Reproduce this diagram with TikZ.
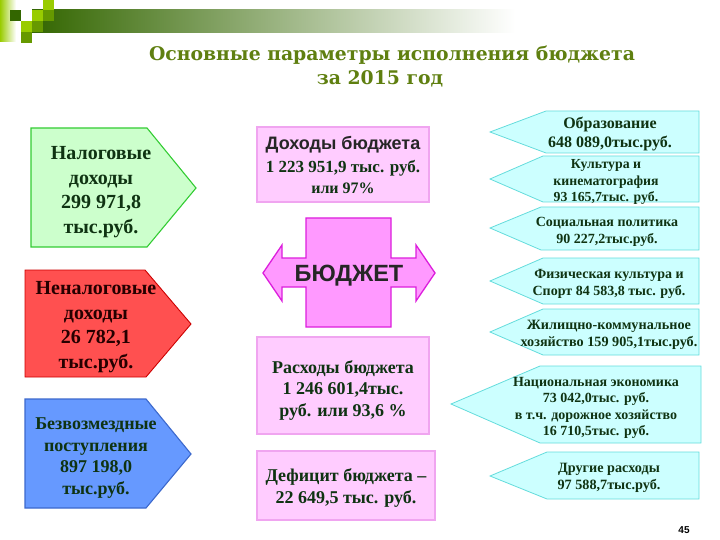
\documentclass[tikz,border=0pt]{standalone}
\usepackage{fontspec}
\setmainfont{Liberation Serif}
\setsansfont{Liberation Sans}
\newfontfamily\ttlfont{DejaVu Serif}
\definecolor{txtdark}{HTML}{0F3312}
\definecolor{ttl}{HTML}{5F7F10}
\definecolor{lime}{HTML}{99CC00}
\definecolor{midg}{HTML}{669900}
\definecolor{darkg}{HTML}{336600}
\tikzset{
	grn/.style={draw={rgb,255:red,51;green,204;blue,51},fill={rgb,255:red,204;green,255;blue,204},line width=1.1pt},
	rd/.style={draw=red!80!black,fill={rgb,255:red,255;green,80;blue,80},line width=.9pt},
	blu/.style={draw={rgb,255:red,60;green,105;blue,205},fill={rgb,255:red,102;green,153;blue,255},line width=1.1pt},
	pk/.style={draw={rgb,255:red,240;green,165;blue,240},fill={rgb,255:red,255;green,204;blue,255},line width=1.5pt},
	bud/.style={draw={rgb,255:red,220;green,30;blue,220},fill={rgb,255:red,255;green,153;blue,255},line width=1.3pt},
	cy/.style={draw={rgb,255:red,100;green,220;blue,220},fill={rgb,255:red,204;green,255;blue,255},line width=.8pt},
	lbl/.style={align=center,font=\bfseries,text=txtdark,inner sep=0pt},
}

\begin{document}
\begin{tikzpicture}[x=1pt,y=-1pt]
	\useasboundingbox (0,0) rectangle (720,540);

	% header
	\shade [left color=darkg,right color=white] (32,10) rectangle (515,33);
	\shade [left color=lime,right color=white] (0,0) rectangle (16,42);
	\fill [darkg] (10,10) rectangle (21,21);
	\fill [lime] (32,10) rectangle (43,21);
	\fill [midg] (43,10) rectangle (54,21);
	\fill [lime] (43,0) rectangle (54,10);
	\fill [lime] (21,21) rectangle (32,32);
	\fill [midg] (32,21) rectangle (43,32);
	\fill [midg] (21,32) rectangle (32,43);

	\node [font=\ttlfont\bfseries\fontsize{18.8}{22}\selectfont,text=ttl,inner sep=0pt] (title1) at (392,55) {Основные параметры исполнения бюджета};
	\node [font=\ttlfont\bfseries\fontsize{18.8}{22}\selectfont,text=ttl,inner sep=0pt] (title2) at (380,79) {за 2015 год};

	% left
	\draw [grn] (31,128) -- (147,128) -- (196,188) -- (147,247) -- (31,247) -- cycle;
	\draw [rd] (25,270) -- (145,270) -- (191,324) -- (146,377) -- (25,377) -- cycle;
	\draw [blu] (25,399) -- (146,399) -- (191,454) -- (146,508) -- (25,508) -- cycle;

	\node [lbl,font=\bfseries\fontsize{20}{24.5}\selectfont] (nalog) at (101,192) {Налоговые\\доходы\\299 971,8\\тыс.руб.};
	\node [lbl,font=\bfseries\fontsize{20}{24.5}\selectfont,text=black!85!red] (nenalog) at (96,327) {Неналоговые\\доходы\\26 782,1\\тыс.руб.};
	\node [lbl,font=\bfseries\fontsize{18}{21.5}\selectfont] (bezvozm) at (96,458) {Безвозмездные\\поступления\\897 198,0\\тыс.руб.};

	% centre
	\draw [pk] (257,127) rectangle (429,202);
	\draw [bud] (306,218) -- (391,218) -- (391,258) -- (416,258) -- (416,245) -- (435,273) -- (416,301) -- (416,287) -- (391,287) -- (391,327) -- (306,327) -- (306,287) -- (282,287) -- (282,301) -- (263,273) -- (282,245) -- (282,258) -- (306,258) -- cycle;
	\draw [pk] (257,337) rectangle (429,434);
	\draw [pk] (257,451) rectangle (435,520);

	\node [font=\sffamily\bfseries\fontsize{18}{20}\selectfont,text=black!85,inner sep=0pt] (dohhead) at (343,145) {Доходы бюджета};
	\node [lbl,font=\bfseries\fontsize{17}{20}\selectfont] (dohval) at (343,168) {1 223 951,9 тыс. руб.};
	\node [lbl,font=\bfseries\fontsize{16}{18}\selectfont] (dohpct) at (343,188) {или 97\%};
	\node [font=\sffamily\bfseries\fontsize{23.5}{26}\selectfont,text=black!85,inner sep=0pt] (byudzhet) at (349,276) {БЮДЖЕТ};
	\node [lbl,font=\bfseries\fontsize{18}{21.5}\selectfont] (rash) at (343,390) {Расходы бюджета\\1 246 601,4тыс.\\руб. или 93,6 \%};
	\node [lbl,font=\bfseries\fontsize{18}{22}\selectfont] (defic) at (346,488) {Дефицит бюджета –\\22 649,5 тыс. руб.};

	% right
	\draw [cy] (490,132) -- (546,111) -- (699,111) -- (699,153) -- (546,153) -- cycle;
	\draw [cy] (490,179) -- (543,156) -- (699,156) -- (699,202) -- (543,202) -- cycle;
	\draw [cy] (490,228) -- (541,207) -- (699,207) -- (699,250) -- (541,250) -- cycle;
	\draw [cy] (490,281) -- (543,258) -- (699,258) -- (699,304) -- (543,304) -- cycle;
	\draw [cy] (490,332) -- (543,309) -- (699,309) -- (699,355) -- (543,355) -- cycle;
	\draw [cy] (451,404) -- (540,366) -- (701,366) -- (701,443) -- (540,443) -- cycle;
	\draw [cy] (490,476) -- (547,452) -- (699,452) -- (699,499) -- (547,499) -- cycle;

	\node [lbl,font=\bfseries\fontsize{16}{19}\selectfont] (obraz) at (610,134) {Образование\\648 089,0тыс.руб.};
	\node [lbl,font=\bfseries\fontsize{13.8}{16.5}\selectfont] (kult) at (606,182) {Культура и\\кинематография\\93 165,7тыс. руб.};
	\node [lbl,font=\bfseries\fontsize{14}{17}\selectfont] (socp) at (607,232) {Социальная политика\\90 227,2тыс.руб.};
	\node [lbl,font=\bfseries\fontsize{14}{17}\selectfont] (fiz) at (609,284) {Физическая культура и\\Спорт 84 583,8 тыс. руб.};
	\node [lbl,font=\bfseries\fontsize{14.2}{17}\selectfont] (zhil) at (609,335) {Жилищно-коммунальное\\хозяйство 159 905,1тыс.руб.};
	\node [lbl,font=\bfseries\fontsize{14}{16.5}\selectfont] (nacek) at (596,408) {Национальная экономика\\73 042,0тыс. руб.\\в т.ч. дорожное хозяйство\\16 710,5тыс. руб.};
	\node [lbl,font=\bfseries\fontsize{14.2}{17}\selectfont] (drug) at (609,478) {Другие расходы\\97 588,7тыс.руб.};

	\node [font=\sffamily\bfseries\fontsize{10}{12}\selectfont,inner sep=0pt] (pagenum) at (684,530) {45};
\end{tikzpicture}
\end{document}
